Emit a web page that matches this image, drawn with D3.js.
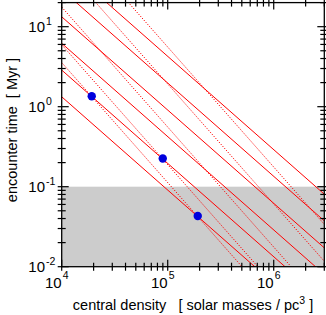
<!DOCTYPE html>
<html>
<head>
<meta charset="utf-8">
<script src="https://cdn.jsdelivr.net/npm/d3@7"></script>
<style>
  body { margin: 0; background: #fff; }
  text { font-family: "Liberation Sans", Arial, sans-serif; fill: #000; }
</style>
</head>
<body>
<script>
    var width = 326, height = 315;

    // plot box in pixels
    var plotLeft = 61.7, plotRight = 324.3, plotTop = 2.6, plotBottom = 266.7;

    // x: central density [Msun/pc^3], y: encounter time [Myr]
    var xDomain = [1e4, 3e6];
    var yDomain = [0.01, 20];
    var xMajor = [1e4, 1e5, 1e6];
    var xExp = ["4", "5", "6"];
    var yMajor = [0.01, 0.1, 1, 10];
    var yExp = ["-2", "-1", "0", "1"];
    var shadeRange = [0.01, 0.1];

    // solid lines, endpoints [density, time]
    var solidLines = [
      [[1e4, 1.33], [3e6, 0.00172]],
      [[1e4, 2.87], [3e6, 0.0037]],
      [[1e4, 6.2], [3e6, 0.0080]],
      [[1e4, 13.3], [3e6, 0.0172]],
      [[1e4, 29], [3e6, 0.0374]],
      [[1e4, 62.5], [3e6, 0.0806]]
    ];

    // dotted lines (steeper)
    var dottedLines = [
      [[1e4, 3.56], [3e6, 0.000685]],
      [[1e4, 5.96], [3e6, 0.00115]],
      [[1e4, 17.6], [3e6, 0.00339]],
      [[1e4, 60.8], [3e6, 0.0117]],
      [[1e4, 176], [3e6, 0.0339]]
    ];

    // marked clusters
    var pointsX = [1.92e4, 8.98e4, 1.92e5];
    var pointsY = [1.35, 0.225, 0.043];

    var svg = d3.select("body").append("svg")
      .attr("width", width)
      .attr("height", height);

    var x = d3.scaleLog().domain(xDomain).range([plotLeft, plotRight]);
    var y = d3.scaleLog().domain(yDomain).range([plotBottom, plotTop]);

    svg.append("clipPath").attr("id", "plotclip")
      .append("rect")
      .attr("x", plotLeft).attr("y", plotTop)
      .attr("width", plotRight - plotLeft).attr("height", plotBottom - plotTop);

    // grey band
    svg.append("rect")
      .attr("x", plotLeft)
      .attr("y", y(shadeRange[1]))
      .attr("width", plotRight - plotLeft)
      .attr("height", y(shadeRange[0]) - y(shadeRange[1]))
      .attr("fill", "#cccccc");

    var lineFunction = d3.line()
      .x(function(d) { return x(d[0]); })
      .y(function(d) { return y(d[1]); });

    var plot = svg.append("g").attr("clip-path", "url(#plotclip)");

    dottedLines.forEach(function(d) {
      plot.append("path")
        .attr("d", lineFunction(d))
        .attr("stroke", "#ff0000")
        .attr("stroke-width", 1)
        .attr("stroke-dasharray", "1.2,1.5")
        .attr("fill", "none");
    });

    solidLines.forEach(function(d) {
      plot.append("path")
        .attr("d", lineFunction(d))
        .attr("stroke", "#ff0000")
        .attr("stroke-width", 1)
        .attr("fill", "none");
    });

    pointsX.forEach(function(px, i) {
      svg.append("circle")
        .attr("cx", x(px))
        .attr("cy", y(pointsY[i]))
        .attr("r", 4.2)
        .attr("fill", "#0000dd");
    });

    // frame
    svg.append("rect")
      .attr("x", plotLeft).attr("y", plotTop)
      .attr("width", plotRight - plotLeft).attr("height", plotBottom - plotTop)
      .attr("fill", "none")
      .attr("stroke", "#000")
      .attr("stroke-width", 1.3);

    var ticks = svg.append("g").attr("stroke", "#000").attr("stroke-width", 1.2);

    var isMajor = function(v) {
      var l = Math.log10(v);
      return Math.abs(l - Math.round(l)) < 1e-6;
    };

    // x ticks, bottom and top, crossing the frame
    x.ticks().forEach(function(v) {
      var inLen = isMajor(v) ? 7 : 4;
      var px = x(v);
      ticks.append("line").attr("x1", px).attr("x2", px)
        .attr("y1", plotBottom + 4).attr("y2", plotBottom - inLen);
      ticks.append("line").attr("x1", px).attr("x2", px)
        .attr("y1", plotTop - 4).attr("y2", plotTop + inLen);
    });

    // y ticks, left and right
    y.ticks().forEach(function(v) {
      var inLen = isMajor(v) ? 7 : 4;
      var py = y(v);
      ticks.append("line").attr("y1", py).attr("y2", py)
        .attr("x1", plotLeft - 4).attr("x2", plotLeft + inLen);
      ticks.append("line").attr("y1", py).attr("y2", py)
        .attr("x1", plotRight + 4).attr("x2", plotRight - inLen);
    });

    // tick labels as 10^n
    xMajor.forEach(function(v, i) {
      svg.append("text")
        .attr("x", x(v)).attr("y", plotBottom + 21)
        .attr("text-anchor", "end")
        .attr("font-size", 15)
        .text("10");
      svg.append("text")
        .attr("x", x(v) + 1).attr("y", plotBottom + 12)
        .attr("font-size", 10.5)
        .text(xExp[i]);
    });

    yMajor.forEach(function(v, i) {
      svg.append("text")
        .attr("x", 45).attr("y", y(v) + 5.5)
        .attr("text-anchor", "end")
        .attr("font-size", 15)
        .text("10");
      svg.append("text")
        .attr("x", 46).attr("y", y(v) - 2)
        .attr("font-size", 10.5)
        .text(yExp[i]);
    });

    // axis titles
    var xt = svg.append("text")
      .attr("x", (plotLeft + plotRight) / 2).attr("y", 310)
      .attr("text-anchor", "middle")
      .attr("font-size", 14.5)
      .attr("xml:space", "preserve");
    xt.append("tspan").text("central density   [ solar masses / pc");
    xt.append("tspan").attr("dy", -6).attr("font-size", 10.5).text("3");
    xt.append("tspan").attr("dy", 6).text(" ]");

    svg.append("text")
      .attr("transform", "translate(17," + 130 + ") rotate(-90)")
      .attr("text-anchor", "middle")
      .attr("font-size", 14.5)
      .attr("xml:space", "preserve")
      .text("encounter time  [ Myr ]");
</script>
</body>
</html>
